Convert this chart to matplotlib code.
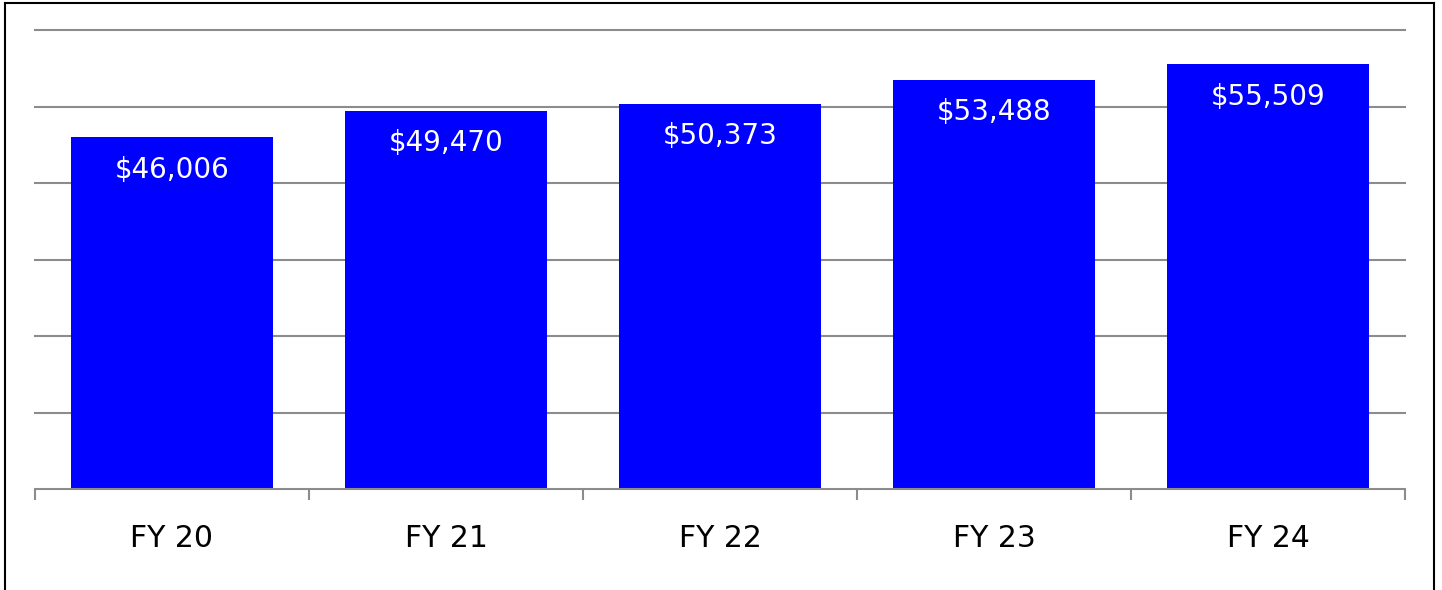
import matplotlib
matplotlib.use("Agg")
import matplotlib.pyplot as plt
from matplotlib.lines import Line2D
import numpy as np

categories = ["FY 20", "FY 21", "FY 22", "FY 23", "FY 24"]
values = [46006, 49470, 50373, 53488, 55509]
labels = ["$46,006", "$49,470", "$50,373", "$53,488", "$55,509"]

W, H, DPI = 1442, 590, 100
fig = plt.figure(figsize=(W / DPI, H / DPI), dpi=DPI)
plt.rcParams['font.family'] = ['DejaVu Sans']

ax = fig.add_axes([35 / W, (H - 489) / H, 1370 / W, 459 / H])
x = np.arange(len(categories))
ax.bar(x, values, width=0.74, color="#0000ff", zorder=3)
ax.set_xlim(-0.5, len(categories) - 0.5)
ax.set_ylim(0, 60000)
ax.set_yticks(np.arange(10000, 60001, 10000))
ax.yaxis.grid(True, color="#8c8c8c", linewidth=1.5, zorder=0)
for gl in ax.get_ygridlines():
    gl.set_clip_on(False)
ax.tick_params(axis="y", left=False, labelleft=False)
for s in ["left", "right", "top"]:
    ax.spines[s].set_visible(False)
ax.spines["bottom"].set_color("#8c8c8c")
ax.spines["bottom"].set_linewidth(1.5)
ax.spines["bottom"].set_zorder(4)

ax.set_xticks(x)
ax.set_xticklabels(categories, fontsize=21.5, color="black")
ax.tick_params(axis="x", length=0, pad=25)
ax.set_xticks(np.arange(-0.5, len(categories), 1.0), minor=True)
ax.tick_params(axis="x", which="minor", length=8, width=1.5, color="#8c8c8c", direction="out")

for xi, v, lab in zip(x, values, labels):
    ax.annotate(lab, (xi, v), xytext=(0, -23.5), textcoords="offset points",
                ha="center", va="center", color="white", fontsize=20, zorder=5)

# figure frame
for xs, ys in [([4.5, 4.5], [0, H - 2.5]), ([4.5, 1433.5], [H - 2.5, H - 2.5]), ([1433.5, 1433.5], [0, H - 2.5])]:
    fig.add_artist(Line2D([v / W for v in xs], [v / H for v in ys], color="black", linewidth=1.5,
                          transform=fig.transFigure))

fig.savefig("out.png", dpi=DPI)
